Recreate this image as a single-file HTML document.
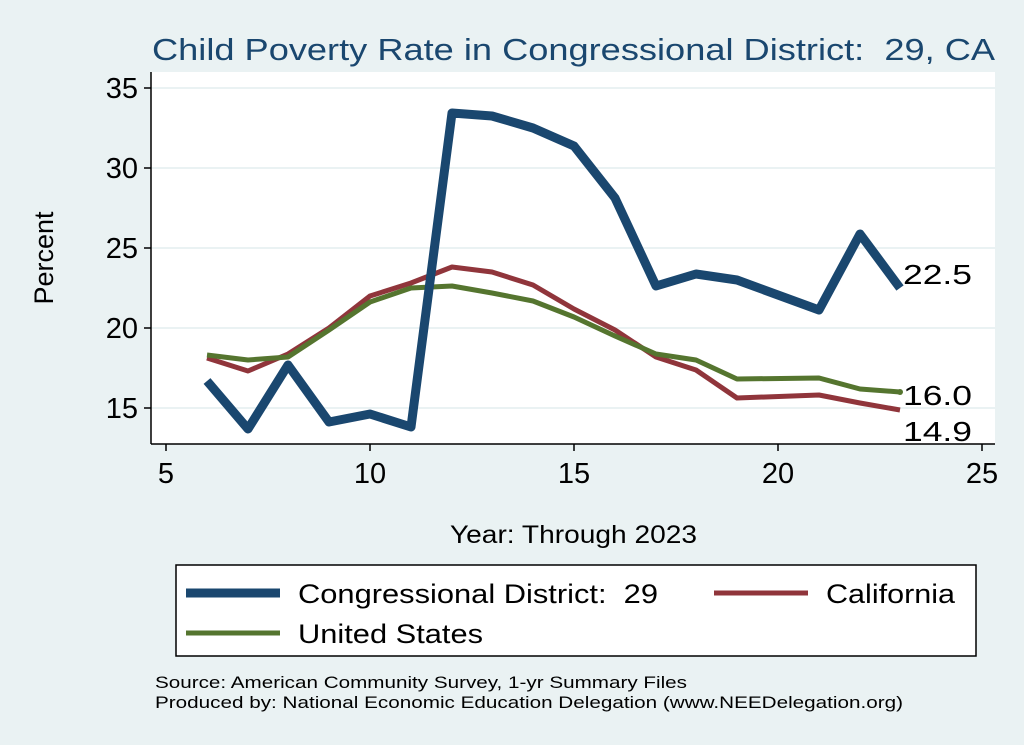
<!DOCTYPE html>
<html><head><style>
body{margin:0;width:1024px;height:745px;background:#eaf2f3;font-family:"Liberation Sans",Arial,sans-serif;overflow:hidden}
svg{display:block}
</style></head><body>
<svg width="1024" height="745" xmlns="http://www.w3.org/2000/svg" font-family="Liberation Sans, Arial, sans-serif">
<rect width="1024" height="745" fill="#eaf2f3"/>
<text x="152" y="60" font-size="31" fill="#1a476f" textLength="843" lengthAdjust="spacingAndGlyphs">Child Poverty Rate in Congressional District:&#160; 29, CA</text>
<rect x="151" y="72" width="844" height="372" fill="#fff"/>
<g stroke="#eaf2f3" stroke-width="2">
<line x1="151" x2="995" y1="88" y2="88"/><line x1="151" x2="995" y1="168" y2="168"/>
<line x1="151" x2="995" y1="248" y2="248"/><line x1="151" x2="995" y1="328" y2="328"/>
<line x1="151" x2="995" y1="408" y2="408"/>
</g>
<g stroke="#000" stroke-width="1.5">
<line x1="151" y1="72" x2="151" y2="444"/><line x1="151" y1="444" x2="995" y2="444"/>
<line x1="144" x2="151" y1="88" y2="88"/><line x1="144" x2="151" y1="168" y2="168"/><line x1="144" x2="151" y1="248" y2="248"/><line x1="144" x2="151" y1="328" y2="328"/><line x1="144" x2="151" y1="408" y2="408"/>
<line x1="166" x2="166" y1="444" y2="451"/><line x1="370" x2="370" y1="444" y2="451"/><line x1="574" x2="574" y1="444" y2="451"/><line x1="778" x2="778" y1="444" y2="451"/><line x1="982" x2="982" y1="444" y2="451"/>
</g>
<g font-size="29" fill="#000" text-anchor="end">
<text x="138" y="98">35</text><text x="138" y="178">30</text><text x="138" y="258">25</text><text x="138" y="338">20</text><text x="138" y="418">15</text>
</g>
<g font-size="29" fill="#000" text-anchor="middle">
<text x="166" y="483">5</text><text x="370" y="483">10</text><text x="574" y="483">15</text><text x="778" y="483">20</text><text x="982" y="483">25</text>
</g>
<text transform="translate(53,258) rotate(-90)" text-anchor="middle" font-size="27">Percent</text>
<text x="450" y="543" font-size="25" textLength="247" lengthAdjust="spacingAndGlyphs">Year: Through 2023</text>
<g fill="none" stroke-linejoin="round">
<polyline stroke="#90353b" stroke-width="5" points="207,358 248,371 288,354 329,328 370,296 411,283 452,267 492,272 533,285 574,309 615,330 656,357 696,370 737,398 819,395 860,403 900,410"/>
<polyline stroke="#55752f" stroke-width="5" points="207,355 248,360 288,357 329,330 370,302 411,288 452,286 492,293 533,301 574,317 615,336 656,354 696,360 737,379 819,378 860,389 900,392"/>
<polyline stroke="#1a476f" stroke-width="9" points="207,381 248,429 288,365 329,422 370,414 411,427 452,113 492,116 533,128 574,146 615,198 656,286 696,274 737,280 819,310 860,234 900,288"/>
</g>
<circle cx="900" cy="392" r="3" fill="#55752f"/>
<text x="903" y="284" font-size="28" textLength="69" lengthAdjust="spacingAndGlyphs">22.5</text>
<text x="903" y="405" font-size="28" textLength="69" lengthAdjust="spacingAndGlyphs">16.0</text>
<text x="903" y="441" font-size="28" textLength="69" lengthAdjust="spacingAndGlyphs">14.9</text>
<rect x="176" y="565" width="800" height="91" fill="#fff" stroke="#000" stroke-width="1.5"/>
<line x1="186" x2="280" y1="593" y2="593" stroke="#1a476f" stroke-width="9"/>
<text x="298" y="603" font-size="27" textLength="360" lengthAdjust="spacingAndGlyphs">Congressional District:&#160; 29</text>
<line x1="714" x2="808" y1="593" y2="593" stroke="#90353b" stroke-width="5"/>
<text x="826" y="603" font-size="27" textLength="129" lengthAdjust="spacingAndGlyphs">California</text>
<line x1="186" x2="280" y1="633" y2="633" stroke="#55752f" stroke-width="5"/>
<text x="298" y="643" font-size="27" textLength="185" lengthAdjust="spacingAndGlyphs">United States</text>
<text x="155" y="688" font-size="17" textLength="532" lengthAdjust="spacingAndGlyphs">Source: American Community Survey, 1-yr Summary Files</text>
<text x="155" y="708" font-size="17" textLength="748" lengthAdjust="spacingAndGlyphs">Produced by: National Economic Education Delegation (www.NEEDelegation.org)</text>
</svg>
</body></html>
